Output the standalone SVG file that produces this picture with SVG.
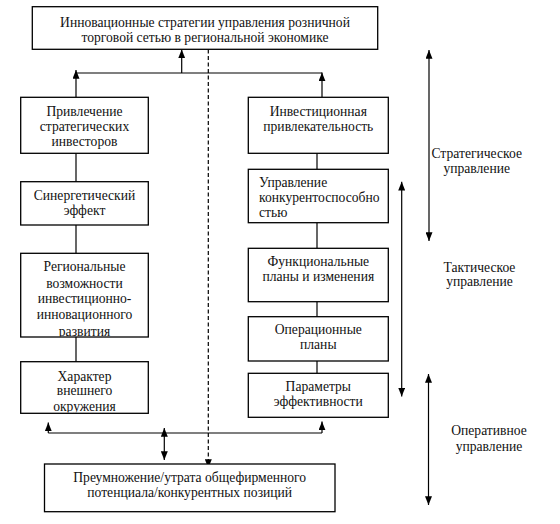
<svg xmlns="http://www.w3.org/2000/svg" width="560" height="524" viewBox="0 0 560 524">
<style>
.box{fill:#fff;stroke:#000;stroke-width:1.3}
.c{stroke:#000;stroke-width:1.2;fill:none}
.d{stroke-dasharray:4,2.5}
text{font-family:'Liberation Serif',serif;font-size:13.6px;fill:#111;text-anchor:middle}
text.tl{text-anchor:start}
</style>
<defs>
<marker id="ah" viewBox="0 0 10 8" refX="10" refY="4" markerWidth="9" markerHeight="7" markerUnits="userSpaceOnUse" orient="auto-start-reverse">
<path d="M0,0 L10,4 L0,8 z" fill="#000"/>
</marker>
<clipPath id="clip3"><rect x="21" y="254" width="127" height="82.5"/></clipPath>
<clipPath id="clip4"><rect x="21" y="362" width="127" height="50.5"/></clipPath>
</defs>
<rect width="560" height="524" fill="#fff"/>

<g id="connectors">
<line class="c" x1="181.7" y1="73" x2="181.7" y2="49.5" marker-end="url(#ah)"/>
<line class="c" x1="76" y1="73" x2="322" y2="73"/>
<line class="c" x1="76" y1="97" x2="76" y2="70" marker-end="url(#ah)"/>
<line class="c" x1="322" y1="97" x2="322" y2="72.5" marker-end="url(#ah)"/>
<line class="c" x1="76" y1="153" x2="76" y2="182"/>
<line class="c" x1="76" y1="225" x2="76" y2="253"/>
<line class="c" x1="76" y1="337" x2="76" y2="362"/>
<line class="c" x1="317" y1="153" x2="317" y2="169"/>
<line class="c" x1="317" y1="223" x2="317" y2="248"/>
<line class="c" x1="317" y1="302" x2="317" y2="317"/>
<line class="c" x1="317" y1="361" x2="317" y2="373"/>
<line class="c" x1="48.3" y1="433" x2="322" y2="433"/>
<line class="c" x1="48.3" y1="433" x2="48.3" y2="422.5" marker-end="url(#ah)"/>
<line class="c" x1="322" y1="433" x2="322" y2="421.5" marker-end="url(#ah)"/>
<line class="c" x1="164.3" y1="428" x2="164.3" y2="460" marker-start="url(#ah)" marker-end="url(#ah)"/>
<line class="c d" x1="208.3" y1="49.5" x2="208.3" y2="468" marker-end="url(#ah)"/>
<line class="c" x1="429" y1="50" x2="429" y2="241" marker-start="url(#ah)" marker-end="url(#ah)"/>
<line class="c" x1="401.7" y1="181.7" x2="401.7" y2="396.5" marker-start="url(#ah)" marker-end="url(#ah)"/>
<line class="c" x1="428.5" y1="374" x2="428.5" y2="505" marker-start="url(#ah)" marker-end="url(#ah)"/>
</g>

<g id="top">
<rect class="box" x="32.3" y="6.7" width="345.4" height="42.6"/>
<text x="205" y="26.8">Инновационные стратегии управления розничной</text>
<text x="205" y="41.8">торговой сетью в региональной экономике</text>
</g>

<g id="l1">
<rect class="box" x="20.7" y="97.3" width="127.6" height="56"/>
<text x="84.5" y="115.8">Привлечение</text>
<text x="84.5" y="130.8">стратегических</text>
<text x="84.5" y="145.8">инвесторов</text>
</g>

<g id="l2">
<rect class="box" x="20.7" y="181.7" width="127.6" height="43.3"/>
<text x="84.5" y="199.8">Синергетический</text>
<text x="84.5" y="215.3">эффект</text>
</g>

<g id="l3">
<rect class="box" x="20.7" y="253.3" width="127.6" height="83.7"/>
<g clip-path="url(#clip3)">
<text x="84.5" y="271.3">Региональные</text>
<text x="84.5" y="287.5">возможности</text>
<text x="84.5" y="303.2">инвестиционно-</text>
<text x="84.5" y="318.5">инновационного</text>
<text x="84.5" y="336.3">развития</text>
</g>
</g>

<g id="l4">
<rect class="box" x="20.7" y="361.7" width="127.6" height="51.6"/>
<g clip-path="url(#clip4)">
<text x="84.5" y="380.8">Характер</text>
<text x="84.5" y="395.3">внешнего</text>
<text x="84.5" y="411.2">окружения</text>
</g>
</g>

<g id="r1">
<rect class="box" x="248.3" y="97.3" width="140" height="56"/>
<text x="318.3" y="115.8">Инвестиционная</text>
<text x="318.3" y="130.8">привлекательность</text>
</g>

<g id="r2">
<rect class="box" x="248.3" y="169.3" width="140" height="53.4"/>
<text class="tl" x="259" y="187.3">Управление</text>
<text class="tl" x="259" y="202.3">конкурентоспособно</text>
<text class="tl" x="259" y="217.3">стью</text>
</g>

<g id="r3">
<rect class="box" x="248.3" y="248.3" width="140" height="53.4"/>
<text x="318.3" y="266.3">Функциональные</text>
<text x="318.3" y="281.3">планы и изменения</text>
</g>

<g id="r4">
<rect class="box" x="248.3" y="316.7" width="140" height="44.3"/>
<text x="318.3" y="334.3">Операционные</text>
<text x="318.3" y="348.8">планы</text>
</g>

<g id="r5">
<rect class="box" x="248.3" y="373.3" width="140" height="44"/>
<text x="318.3" y="391.3">Параметры</text>
<text x="318.3" y="406">эффективности</text>
</g>

<g id="bottom">
<rect class="box" x="44.5" y="464" width="290.5" height="47.7"/>
<text x="189.7" y="482">Преумножение/утрата общефирменного</text>
<text x="189.7" y="497">потенциала/конкурентных позиций</text>
</g>

<g id="labels">
<text x="476.7" y="157.8">Стратегическое</text>
<text x="476.7" y="172.8">управление</text>
<text x="479.5" y="271.8">Тактическое</text>
<text x="479.5" y="286.3">управление</text>
<text x="489" y="435.3">Оперативное</text>
<text x="489" y="450.8">управление</text>
</g>
</svg>
